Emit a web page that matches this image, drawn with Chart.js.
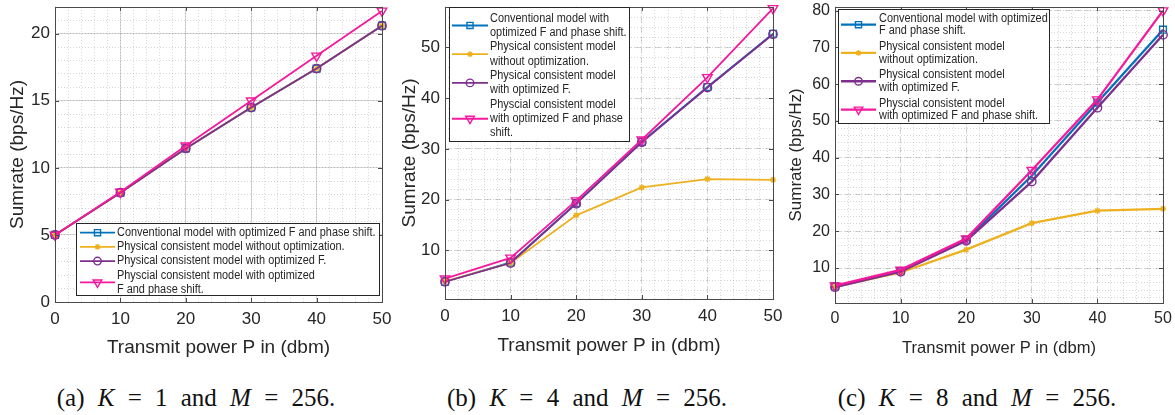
<!DOCTYPE html>
<html>
<head>
<meta charset="utf-8">
<script src="https://cdn.jsdelivr.net/npm/chart.js@4.4.0/dist/chart.umd.min.js"></script>
<style>
  body { margin: 0; background: #fff; width: 1175px; height: 415px; position: relative; overflow: hidden; font-family: "Liberation Sans", Arial, sans-serif; }
  .panel { position: absolute; top: 0; height: 365px; }
  .cap { position: absolute; top: 384px; font-family: "Liberation Serif", serif; font-size: 25px; word-spacing: 7px; color: #111; white-space: nowrap; transform: translateX(-50%); }
  .cap i { font-style: italic; }
</style>
</head>
<body>
<div class="panel" style="left:0;width:392px"><canvas id="chart-a"></canvas></div>
<div class="panel" style="left:392px;width:393px"><canvas id="chart-b"></canvas></div>
<div class="panel" style="left:782px;width:393px"><canvas id="chart-c"></canvas></div>
<div class="cap" style="left:196px">(a) <i>K</i> = 1 and <i>M</i> = 256.</div>
<div class="cap" style="left:587px">(b) <i>K</i> = 4 and <i>M</i> = 256.</div>
<div class="cap" style="left:977px">(c) <i>K</i> = 8 and <i>M</i> = 256.</div>
<script>
// transmit power (dbm)
const xVals = [0, 10, 20, 30, 40, 50];
const xTicks = [0, 10, 20, 30, 40, 50];

// (a) K = 1
const convA = [5.0, 8.15, 11.45, 14.5, 17.4, 20.6];
const noOptA = [5.0, 8.15, 11.45, 14.5, 17.4, 20.6];
const optFA = [5.0, 8.15, 11.45, 14.5, 17.4, 20.6];
const optFPA = [5.0, 8.2, 11.65, 15.0, 18.35, 21.7];
const yTicksA = [0, 5, 10, 15, 20];

// (b) K = 4
const convB = [3.8, 7.6, 19.3, 31.4, 42.2, 52.7];
const noOptB = [3.9, 7.5, 16.9, 22.4, 24.05, 23.9];
const optFB = [3.8, 7.5, 19.2, 31.3, 42.1, 52.6];
const optFPB = [4.4, 8.5, 19.8, 31.8, 44.1, 57.7];
const yTicksB = [10, 20, 30, 40, 50];

// (c) K = 8
const convC = [5.0, 9.2, 17.7, 35.1, 55.0, 74.8];
const noOptC = [4.9, 8.8, 15.0, 22.2, 25.6, 26.1];
const optFC = [4.8, 9.0, 17.4, 33.5, 53.6, 73.4];
const optFPC = [5.2, 9.5, 18.0, 36.6, 55.8, 80.0];
const yTicksC = [10, 20, 30, 40, 50, 60, 70, 80];

const legendA = [
  ["Conventional model with optimized F and phase shift."],
  ["Physical consistent model without optimization."],
  ["Physical consistent model with optimized F."],
  ["Physcial consistent model with optimized", "F and phase shift."]
];
const legendB = [
  ["Conventional model with", "optimized F and phase shift."],
  ["Physical consistent model", "without optimization."],
  ["Physical consistent model", "with optimized F."],
  ["Physcial consistent model", "with optimized F and phase", "shift."]
];
const legendC = [
  ["Conventional model with optimized", "F and phase shift."],
  ["Physical consistent model", "without optimization."],
  ["Physical consistent model", "with optimized F."],
  ["Physcial consistent model", "with optimized F and phase shift."]
];

const txt = "#262626";
const styles = [
  { color: "#0072BD", pointStyle: "rect", radius: 4.8, rotation: 0 },
  { color: "#EDB120", pointStyle: "star", radius: 3.2, rotation: 0 },
  { color: "#7E2F8E", pointStyle: "circle", radius: 4.2, rotation: 0 },
  { color: "#F5199B", pointStyle: "triangle", radius: 5.5, rotation: 180 }
];

// box round the plot, inward ticks and the legend inside the axes
const matlabBox = {
  id: "matlabBox",
  afterDatasetsDraw(chart) {
    const { ctx, chartArea: a, scales } = chart;
    ctx.save();
    ctx.strokeStyle = "#4a4a4a";
    ctx.lineWidth = 1;
    ctx.beginPath();
    scales.x.ticks.forEach((t) => {
      const px = Math.round(scales.x.getPixelForValue(t.value)) + 0.5;
      ctx.moveTo(px, a.bottom); ctx.lineTo(px, a.bottom - 4);
      ctx.moveTo(px, a.top); ctx.lineTo(px, a.top + 4);
    });
    scales.y.ticks.forEach((t) => {
      const py = Math.round(scales.y.getPixelForValue(t.value)) + 0.5;
      ctx.moveTo(a.left, py); ctx.lineTo(a.left + 4, py);
      ctx.moveTo(a.right, py); ctx.lineTo(a.right - 4, py);
    });
    ctx.stroke();
    ctx.strokeRect(Math.round(a.left) + 0.5, Math.round(a.top) + 0.5, Math.round(a.right - a.left), Math.round(a.bottom - a.top));
    ctx.restore();
  },
  afterDraw(chart, args, o) {
    if (!o || !o.entries) return;
    const ctx = chart.ctx;
    ctx.save();
    ctx.fillStyle = "#fff";
    ctx.fillRect(o.left, o.top, o.right - o.left, o.bottom - o.top);
    ctx.strokeStyle = "#262626";
    ctx.lineWidth = 1;
    ctx.strokeRect(o.left + 0.5, o.top + 0.5, o.right - o.left, o.bottom - o.top);
    ctx.font = o.fontSize + 'px "Liberation Sans", Arial, sans-serif';
    ctx.textBaseline = "middle";
    let y = o.firstY;
    o.entries.forEach((lines, i) => {
      const st = styles[i];
      const midY = y + (lines.length - 1) * o.lineH / 2;
      ctx.strokeStyle = st.color;
      ctx.lineWidth = o.lineWidth;
      ctx.beginPath();
      ctx.moveTo(o.sx0, midY); ctx.lineTo(o.sx1, midY);
      ctx.stroke();
      ctx.fillStyle = "rgba(255,255,255,0)";
      ctx.lineWidth = 1.4;
      Chart.helpers.drawPoint(ctx, { pointStyle: st.pointStyle, rotation: st.rotation, radius: st.radius * 0.9, borderWidth: 1.4 }, (o.sx0 + o.sx1) / 2, midY);
      ctx.fillStyle = txt;
      lines.forEach((l, j) => {
        ctx.fillText(l, o.textX, y + j * o.lineH, ctx.measureText(l).width * o.squeeze);
      });
      y += lines.length * o.lineH + o.gap;
    });
    ctx.restore();
  }
};

function makeSets(series, lw) {
  return series.map((vals, i) => ({
    data: xVals.map((x, k) => ({ x: x, y: vals[k] })),
    borderColor: styles[i].color,
    backgroundColor: "rgba(255,255,255,0)",
    pointBorderColor: styles[i].color,
    pointBackgroundColor: "rgba(255,255,255,0)",
    pointStyle: styles[i].pointStyle,
    pointRotation: styles[i].rotation,
    pointRadius: styles[i].radius,
    pointBorderWidth: 1.4,
    borderWidth: lw,
    tension: 0,
    clip: false,
    order: 4 - i
  }));
}

function panel(target, p) {
  const minor = (pos, min, max, step) => ({
    type: "linear", position: pos, min: min, max: max,
    ticks: { display: false, stepSize: step, includeBounds: false },
    grid: { color: "rgba(0,0,0,0.16)", drawTicks: false, lineWidth: 1 },
    border: { display: false, dash: [1, 2] },
    afterBuildTicks: (s) => { s.ticks = s.ticks.filter((t) => t.value > min && t.value < max); },
    afterFit: (s) => { if (pos === "bottom") s.height = 0; else s.width = 0; s.paddingTop = s.paddingBottom = s.paddingLeft = s.paddingRight = 0; }
  });
  return new Chart(target, {
    type: "line",
    data: { datasets: makeSets(p.series, p.lw) },
    options: {
      responsive: true,
      maintainAspectRatio: false,
      animation: false,
      layout: { padding: { top: 5, right: p.padRight, left: 0, bottom: 0 } },
      plugins: { legend: { display: false }, tooltip: { enabled: false }, matlabBox: p.legend },
      scales: {
        x: {
          type: "linear", position: "bottom", min: 0, max: 50,
          afterBuildTicks: (s) => { s.ticks = xTicks.map((v) => ({ value: v })); },
          ticks: { font: { size: p.tick, family: '"Liberation Sans", Arial' }, color: txt, padding: p.xTickPad, maxRotation: 0 },
          grid: { color: "rgba(0,0,0,0.15)", drawTicks: false },
          border: { display: false, dash: p.majorDash },
          title: { display: true, text: "Transmit power P in (dbm)", color: txt, font: { size: p.xTitle, family: '"Liberation Sans", Arial' }, padding: { top: 0, bottom: p.xTitlePad } },
          afterFit: (s) => { s.height = p.xh; s.paddingLeft = s.paddingRight = 0; }
        },
        y: {
          type: "linear", position: "left", min: p.ymin, max: p.ymax,
          afterBuildTicks: (s) => { s.ticks = p.yTicks.map((v) => ({ value: v })); },
          ticks: { font: { size: p.tick, family: '"Liberation Sans", Arial' }, color: txt, padding: 5 },
          grid: { color: "rgba(0,0,0,0.15)", drawTicks: false },
          border: { display: false, dash: p.majorDash },
          title: { display: true, text: "Sumrate (bps/Hz)", color: txt, font: { size: p.yTitle, family: '"Liberation Sans", Arial' }, padding: { top: p.yTitlePad, bottom: 0 } },
          afterFit: (s) => { s.width = p.yw; s.paddingTop = s.paddingBottom = 0; }
        },
        xm: minor("bottom", 0, 50, 2),
        ym: minor("left", p.ymin, p.ymax, p.yMinor)
      }
    },
    plugins: [matlabBox]
  });
}

panel(document.getElementById("chart-a"), {
  series: [convA, noOptA, optFA, optFPA], lw: 1.8,
  ymin: 0, ymax: 22, yTicks: yTicksA, yMinor: 1, majorDash: [],
  yw: 55, padRight: 10, xh: 63, tick: 17, xTitle: 19, yTitle: 19,
  xTickPad: 7, xTitlePad: 6, yTitlePad: 6,
  legend: { entries: legendA, left: 76, top: 223, right: 379, bottom: 295, textX: 117, sx0: 80, sx1: 115,
    firstY: 232.7, lineH: 14.2, gap: 0, fontSize: 12, squeeze: 0.91, lineWidth: 1.8 }
});

panel(document.getElementById("chart-b"), {
  series: [convB, noOptB, optFB, optFPB], lw: 1.8,
  ymin: 0.4, ymax: 58, yTicks: yTicksB, yMinor: 2, majorDash: [6, 4],
  yw: 53, padRight: 12, xh: 66, tick: 17, xTitle: 19, yTitle: 19,
  xTickPad: 7, xTitlePad: 8, yTitlePad: 6,
  legend: { entries: legendB, left: 57, top: 7, right: 237, bottom: 141, textX: 98, sx0: 60, sx1: 96,
    firstY: 18.3, lineH: 14.35, gap: 0, fontSize: 12, squeeze: 0.91, lineWidth: 1.8 }
});

panel(document.getElementById("chart-c"), {
  series: [convC, noOptC, optFC, optFPC], lw: 2.3,
  ymin: 0.5, ymax: 81, yTicks: yTicksC, yMinor: 2, majorDash: [6, 4],
  yw: 53, padRight: 12, xh: 62, tick: 16, xTitle: 16.5, yTitle: 17,
  xTickPad: 6, xTitlePad: 7, yTitlePad: 4,
  legend: { entries: legendC, left: 56, top: 9, right: 267, bottom: 123, textX: 97, sx0: 59, sx1: 94,
    firstY: 18.3, lineH: 12.7, gap: 2.9, fontSize: 12, squeeze: 0.91, lineWidth: 2.3 }
});
</script>
</body>
</html>
